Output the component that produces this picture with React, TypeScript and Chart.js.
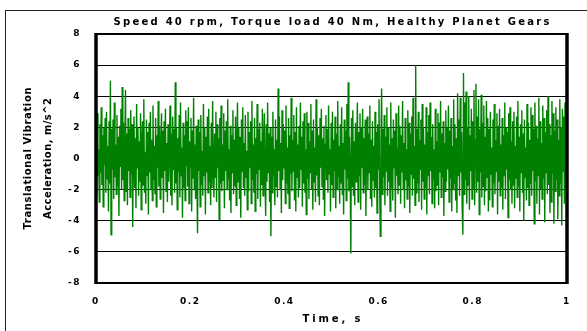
import React, { useEffect, useRef } from "react";
import { Chart, registerables } from "chart.js";

Chart.register(...registerables);

const TITLE = "Speed 40 rpm, Torque load 40 Nm, Healthy Planet Gears";
const X_TITLE = "Time, s";
const Y_TITLE = ["Translational Vibration", "Acceleration, m/s^2"];
const X_TICK_LABELS = ["0", "0.2", "0.4", "0.6", "0.8", "1"];
const Y_TICK_LABELS = ["-8", "-6", "-4", "-2", "0", "2", "4", "6", "8"];
const DURATION_S = 1;

// acceleration samples, m/s^2 (read/estimated from the picture)
const ACCEL = [
  1.2, -2.4, 2.9, -1.1, 0.6, -2.8, 2.2, -0.9, 3.3, -1.7, 1.5, -3.1, 2.0, -0.4, 2.6, -2.2, 3.0, -1.3, 0.8, -3.4,
  2.4, -1.6, 5.0, -4.9, 1.9, -0.7, 2.5, -2.6, 3.6, -1.2, 0.9, -2.3, 2.8, -1.8, 1.4, -3.7, 2.1, -0.5, 3.2, -2.0,
  4.6, -1.4, 2.3, -2.7, 0.7, 4.4, -2.1, 1.6, -3.0, 2.6, -0.8, 1.9, -2.5, 3.1, -1.0, 2.2, -4.4, 0.5, 2.7, -1.9,
  1.3, -3.2, 3.5, -0.6, 2.0, -2.4, 1.1, -1.5, 2.9, -3.3, 0.9, 2.4, -1.7, 3.8, -2.2, 0.4, -2.9, 2.5, -1.1, 1.7,
  -3.6, 2.3, -0.9, 3.0, -2.0, 1.2, -2.7, 3.4, -1.4, 0.8, -2.3, 2.6, -3.1, 1.5, -0.6, 3.7, -1.8, 2.1, -2.6, 0.7,
  2.9, -1.2, 1.8, -3.5, 2.4, -0.8, 3.2, -2.1, 1.0, -2.8, 2.2, -1.5, 0.6, 3.4, -2.4, 1.6, -3.0, 2.7, -0.7, 1.9,
  -2.2, 4.9, -1.6, 2.0, -3.3, 1.3, -0.9, 2.8, -2.5, 3.6, -1.1, 0.7, -3.8, 2.3, -1.9, 1.5, -2.7, 3.1, -0.5, 2.4,
  -1.8, 3.3, -2.9, 1.1, -0.6, 2.6, -3.4, 1.8, -1.3, 3.9, -2.0, 0.9, -2.6, 2.1, -1.4, -4.8, 2.5, -0.8, 1.7, -3.1,
  2.8, -1.7, 0.5, -2.4, 3.5, -1.1, 2.0, -3.6, 1.4, -0.9, 2.7, -2.2, 3.2, -1.5, 0.8, -3.0, 2.3, -1.9, 3.7, -0.7,
  -2.5, 1.6, -1.2, 3.0, -2.8, 2.2, -0.6, 1.3, -3.9, 2.6, -1.6, 3.4, -2.1, 0.9, -1.4, 2.9, -3.2, 1.8, -0.8, 2.4,
  -2.0, 3.8, -1.3, 0.6, -2.7, 2.1, -3.5, 1.5, -0.9, 3.1, -2.3, 1.2, -1.8, 2.7, -3.0, 0.7, 3.6, -1.5, 2.0, -2.6,
  1.4, -3.8, 2.5, -0.8, 3.3, -1.9, 1.0, -2.4, 2.8, -1.2, 0.5, -3.3, 3.0, -2.1, 1.7, -0.6, 2.4, -2.9, 3.7, -1.4,
  0.9, -2.2, 2.6, -3.4, 1.3, -1.0, 3.5, -2.6, 1.9, -0.7, 2.3, -3.1, 1.1, -1.7, 3.2, -2.4, 0.8, 2.9, -1.3, -3.7,
  2.2, -1.5, 3.6, -0.9, 1.6, -2.8, 2.0, -5.0, 1.4, -2.2, 3.0, -1.1, 0.6, -3.0, 2.5, -1.8, 1.2, -2.5, 4.5, -0.8,
  2.7, -2.0, 1.0, -3.5, 3.1, -1.4, 2.2, -0.6, 1.8, -2.9, 3.4, -1.6, 0.7, -2.3, 2.6, -3.2, 1.5, -1.0, 3.9, -2.1,
  1.2, -0.8, 2.8, -2.7, 1.7, -3.4, 3.3, -1.2, 0.9, -2.5, 2.1, -1.9, 3.6, -0.7, 1.4, -3.1, 2.4, -1.6, 2.9, -2.2,
  0.6, -3.6, 3.0, -1.3, 2.3, -2.6, 1.1, -0.9, 3.5, -2.0, 1.8, -3.3, 2.5, -1.5, 0.7, -2.8, 3.8, -1.1, 2.0, -2.4,
  1.5, -3.0, 2.6, -0.6, 3.2, -1.8, 1.3, -2.6, 2.1, -3.7, 0.9, 2.8, -1.4, 1.9, -2.2, 3.4, -1.0, 0.6, -3.4, 2.3,
  -1.7, 3.0, -2.5, 1.2, -0.8, 2.7, -3.2, 1.6, -2.0, 3.7, -1.2, 0.8, -2.9, 2.2, -1.6, 3.3, -2.3, 1.0, -3.6, 2.5,
  -0.7, 1.8, -2.7, 3.5, -1.3, 4.9, -2.1, 1.4, -0.9, -6.1, 2.6, -1.8, 3.1, -2.4, 1.1, -3.0, 2.3, -1.5, 0.7, 3.6,
  -2.8, 1.7, -1.1, 2.9, -3.3, 2.0, -0.6, 3.2, -2.2, 1.3, -1.7, 2.5, -3.7, 1.0, 2.7, -2.0, 1.6, -0.9, 3.4, -2.6,
  1.2, -3.1, 2.4, -1.4, 0.8, -2.5, 3.0, -1.9, 1.7, -3.5, 2.2, -0.7, 3.8, -1.6, -5.0, 1.1, 4.5, -2.3, 1.9, -1.2,
  2.8, -3.0, 1.4, -0.8, 3.3, -2.4, 2.0, -1.5, 0.9, -3.4, 3.6, -1.9, 1.3, -2.7, 2.5, -0.6, 1.8, -3.8, 2.9, -1.1,
  0.7, -2.3, 3.4, -1.7, 2.1, -2.9, 1.5, -0.9, 3.7, -2.0, 1.0, -3.2, 2.6, -1.4, 0.6, -2.6, 3.1, -1.8, 2.3, -3.5,
  1.6, -1.0, 2.7, -2.4, 3.9, -1.3, 0.8, -3.0, 6.0, -2.2, 1.9, -1.6, 3.0, -2.8, 1.2, -0.7, 2.5, -3.3, 3.5, -1.5,
  2.0, -2.6, 0.9, -1.9, 3.3, -3.6, 1.7, -1.1, 2.8, -2.3, 3.6, -0.8, 1.4, -2.9, 2.2, -1.4, 0.6, -3.2, 3.2, -2.1,
  1.1, -1.7, 2.9, -3.0, 2.3, -0.9, 3.7, -2.5, 1.6, -1.2, 2.4, -3.7, 1.0, -2.1, 3.1, -1.5, 2.0, -0.7, 3.4, -2.8,
  1.8, -1.3, 2.6, -3.4, 0.8, -2.0, 3.8, -1.6, 2.2, -2.7, 1.3, -3.5, 4.2, -1.1, 2.5, -2.4, 3.9, -0.9, 1.7, -3.1,
  -4.9, 5.5, -2.3, 3.6, -1.4, 4.3, -2.9, 2.0, -1.7, 4.0, -3.3, 1.5, -0.8, 3.2, -2.6, 2.4, -1.9, 4.4, -3.0, 1.2,
  4.8, -2.2, 2.7, -1.5, 3.8, -3.6, 1.9, -0.9, 4.1, -2.5, 2.3, -1.8, 3.4, -3.0, 1.4, -2.1, 3.7, -1.2, 2.6, -3.4,
  1.9, -2.7, 3.0, -1.0, 0.7, -3.1, 2.5, -1.6, 3.5, -2.3, 1.2, -0.8, 2.9, -3.6, 2.1, -1.5, 3.2, -2.4, 0.9, -1.9,
  2.6, -3.3, 1.5, -1.1, 3.6, -2.6, 2.0, -0.7, 1.7, -3.8, 2.9, -1.4, 3.3, -2.0, 1.1, -2.9, 2.4, -1.7, 3.0, -3.2,
  0.8, -1.3, 2.7, -2.5, 3.7, -1.8, 1.4, -3.4, 2.2, -0.9, 3.1, -2.2, 1.6, -4.0, 2.5, -1.2, 0.7, -2.7, 3.5, -1.9,
  2.3, -3.0, 1.2, -1.6, 3.3, -2.4, 2.8, -0.8, 1.9, -4.2, 3.6, -1.5, 2.1, -2.9, 1.3, -1.1, 3.9, -3.6, 2.4, -2.0,
  1.0, -2.6, 3.4, -1.3, 2.6, -4.1, 1.7, -0.9, 3.1, -2.3, 4.0, -1.7, 2.2, -3.5, 1.5, -2.8, 3.7, -1.0, 2.9, -4.2,
  1.8, -2.1, 3.3, -1.4, 2.5, -3.9, 1.2, -2.4, 3.8, -1.6, 2.0, -4.3, 3.2, -0.8, 2.7, -2.9, 3.6, -1.9, 2.8, -3.7,
];

const FONT = '"DejaVu Sans", "Liberation Sans", Arial, sans-serif';
const TICK_SPACING = 1.5;

function fitText(ctx: any, text: string, x: number, y: number, target: number) {
  ctx.letterSpacing = "0px";
  const w = ctx.measureText(text).width;
  const s = Math.max(0, (target - w) / (text.length - 1));
  ctx.letterSpacing = s + "px";
  ctx.fillText(text, x + s / 2, y);
}

const framePlugin = {
  id: "frameAndTexts",
  beforeDraw(chart: any) {
    (chart.ctx as any).letterSpacing = TICK_SPACING + "px";
  },
  afterDraw(chart: any) {
    const ctx = chart.ctx as any;
    const a = chart.chartArea;
    ctx.save();
    // plot frame
    ctx.strokeStyle = "#000";
    ctx.lineWidth = 2;
    ctx.strokeRect(a.left, a.top, a.right - a.left, a.bottom - a.top);
    ctx.lineWidth = 3.5;
    ctx.beginPath();
    ctx.moveTo(a.left, a.top - 1);
    ctx.lineTo(a.left, a.bottom + 1);
    ctx.moveTo(a.right, a.top - 1);
    ctx.lineTo(a.right, a.bottom + 1);
    ctx.stroke();
    // outer chart border
    ctx.lineWidth = 1;
    ctx.strokeStyle = "#222";
    ctx.strokeRect(5.5, 10.5, 800, 600);
    // title & x title
    ctx.fillStyle = "#000";
    ctx.font = "bold 10px " + FONT;
    ctx.textAlign = "center";
    ctx.textBaseline = "middle";
    const cx = (a.left + a.right) / 2;
    fitText(ctx, TITLE, cx, 22, 436);
    fitText(ctx, X_TITLE, cx, 319, 58);
    // y title (two lines, rotated)
    const cy = (a.top + a.bottom) / 2;
    const xs = [28, 48];
    const lens = [142, 121];
    Y_TITLE.forEach((t, i) => {
      ctx.save();
      ctx.translate(xs[i], cy);
      ctx.rotate(-Math.PI / 2);
      fitText(ctx, t, 0, 0, lens[i]);
      ctx.restore();
    });
    ctx.restore();
  },
};

export default function App() {
  const ref = useRef<HTMLCanvasElement | null>(null);

  useEffect(() => {
    if (!ref.current) return;
    const points = ACCEL.map((v, i) => ({ x: (i * DURATION_S) / (ACCEL.length - 1), y: v }));
    const chart = new Chart(ref.current, {
      type: "line",
      data: {
        datasets: [
          {
            data: points,
            borderColor: "#008000",
            borderWidth: 1.4,
            pointRadius: 0,
            tension: 0,
            fill: false,
          },
        ],
      },
      options: {
        animation: false,
        responsive: false,
        devicePixelRatio: 1,
        layout: { padding: { top: 34, right: 20, bottom: 0, left: 0 } },
        plugins: {
          legend: { display: false },
          title: { display: false },
          tooltip: { enabled: false },
        },
        scales: {
          x: {
            type: "linear",
            min: 0,
            max: DURATION_S,
            grid: { display: false, drawTicks: false },
            border: { display: false },
            ticks: {
              stepSize: 0.2,
              padding: 13,
              color: "#000",
              maxRotation: 0,
              autoSkip: false,
              font: { family: FONT, size: 9, weight: "bold" },
              callback: (_v: any, i: number) => X_TICK_LABELS[i],
            },
            afterFit: (s: any) => {
              s.height = 48;
            },
          },
          y: {
            min: -8,
            max: 8,
            grid: { color: "#000", lineWidth: 1, drawTicks: false },
            border: { display: false },
            ticks: {
              stepSize: 2,
              padding: 15,
              color: "#000",
              autoSkip: false,
              font: { family: FONT, size: 9, weight: "bold" },
              callback: (_v: any, i: number) => Y_TICK_LABELS[i],
            },
            afterFit: (s: any) => {
              s.width = 96;
            },
          },
        },
      },
      plugins: [framePlugin],
    } as any);
    return () => chart.destroy();
  }, []);

  return (
    <div style={{ position: "absolute", left: 0, top: 0, width: 587, height: 331, background: "#fff" }}>
      <canvas ref={ref} width={587} height={331} />
    </div>
  );
}
